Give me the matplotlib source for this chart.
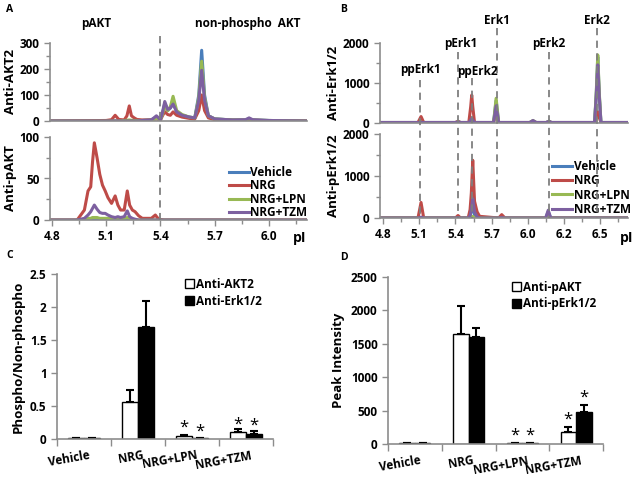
import matplotlib
matplotlib.use('Agg')
import matplotlib.pyplot as plt
from matplotlib import transforms
from matplotlib.ticker import FixedLocator, NullLocator, FuncFormatter

plt.rcParams['font.family'] = ['Open Sans', 'DejaVu Sans']
plt.rcParams['font.weight'] = 'bold'
plt.rcParams['axes.labelweight'] = 'bold'

# ---------------- data ----------------
series_names = ['Vehicle', 'NRG', 'NRG+LPN', 'NRG+TZM']
series_colors = ['#4a7ebb', '#be4b48', '#98b954', '#7d60a0']

# Panel A top: Anti-AKT2
akt2_x = [4.80, 5.10, 5.13, 5.15, 5.17, 5.20, 5.215, 5.228, 5.24, 5.255, 5.27, 5.30, 5.35, 5.378,
          5.40, 5.41, 5.424, 5.44, 5.455, 5.47, 5.49, 5.52, 5.56, 5.59, 5.612, 5.628, 5.644,
          5.665, 5.70, 5.80, 5.87, 5.89, 5.91, 6.00, 6.21]
akt2_vehicle = [0, 0, 0, 0, 0, 0, 0, 0, 0, 0, 0, 2, 5, 15,
                5, 25, 68, 40, 50, 72, 35, 22, 15, 12, 100, 272, 100,
                20, 8, 4, 4, 8, 4, 2, 0]
akt2_nrg = [0, 2, 5, 22, 6, 4, 20, 58, 20, 12, 6, 4, 4, 8,
            3, 18, 36, 25, 22, 35, 22, 15, 10, 8, 40, 100, 40,
            12, 5, 3, 3, 5, 3, 1, 0]
akt2_lpn = [0, 0, 0, 0, 0, 2, 3, 4, 3, 2, 2, 2, 3, 10,
            5, 22, 60, 40, 55, 95, 40, 25, 15, 12, 90, 230, 90,
            20, 8, 4, 4, 8, 4, 2, 0]
akt2_tzm = [0, 0, 0, 0, 0, 0, 0, 0, 0, 0, 0, 2, 4, 20,
            5, 28, 75, 45, 50, 65, 35, 22, 15, 12, 80, 195, 80,
            20, 8, 4, 5, 12, 5, 2, 0]

# Panel A bottom: Anti-pAKT
pakt_x = [4.79, 4.94, 4.98, 5.00, 5.015, 5.025, 5.035, 5.05, 5.065, 5.08, 5.095, 5.11, 5.13,
          5.15, 5.165, 5.18, 5.20, 5.217, 5.23, 5.245, 5.26, 5.28, 5.30, 5.35, 5.372, 5.39,
          5.42, 6.21]
pakt_vehicle = [0] * 28
pakt_nrg = [0, 0, 12, 35, 40, 70, 93, 75, 55, 42, 35, 27, 20,
            29, 18, 12, 12, 35, 18, 12, 10, 5, 2, 2, 6, 1,
            0, 0]
pakt_lpn = [0, 0, 1, 2, 2, 3, 3, 3, 2, 2, 2, 2, 2,
            2, 2, 2, 2, 3, 2, 1, 0, 0, 0, 0, 0, 0,
            0, 0]
pakt_tzm = [0, 0, 2, 6, 10, 14, 18, 13, 9, 8, 8, 6, 4,
            3, 4, 3, 4, 11, 4, 2, 1, 0, 0, 0, 0, 0,
            0, 0]

# Panel B top: Anti-Erk1/2
erk_x = [4.78, 5.075, 5.099, 5.12, 5.37, 5.39, 5.41, 5.475, 5.49, 5.498, 5.506, 5.52,
         5.67, 5.69, 5.71, 5.955, 5.98, 6.005, 6.085, 6.106, 6.125,
         6.465, 6.478, 6.49, 6.502, 6.515, 6.73]
erk_vehicle = [0, 0, 10, 0, 0, 20, 0, 0, 30, 50, 30, 0,
               0, 550, 0, 0, 40, 0, 0, 30, 0,
               0, 700, 1650, 700, 0, 0]
erk_nrg = [0, 0, 150, 0, 0, 30, 0, 0, 400, 690, 400, 0,
           0, 300, 0, 0, 30, 0, 0, 20, 0,
           0, 120, 270, 120, 0, 0]
erk_lpn = [0, 0, 5, 0, 0, 10, 0, 0, 20, 30, 20, 0,
           0, 610, 0, 0, 50, 0, 0, 30, 0,
           0, 750, 1700, 750, 0, 0]
erk_tzm = [0, 0, 5, 0, 0, 15, 0, 0, 60, 100, 60, 0,
           0, 420, 0, 0, 50, 0, 0, 30, 0,
           0, 650, 1450, 650, 0, 0]

# Panel B bottom: Anti-pErk1/2
perk_x = [4.78, 5.075, 5.099, 5.12, 5.37, 5.39, 5.41, 5.47, 5.485, 5.495, 5.506, 5.52,
          5.54, 5.56, 5.71, 5.734, 5.76, 6.08, 6.10, 6.12, 6.73]
perk_vehicle = [0, 0, 0, 0, 0, 0, 0, 0, 50, 150, 330, 80,
                0, 0, 0, 0, 0, 0, 150, 0, 0]
perk_nrg = [0, 0, 370, 0, 0, 60, 0, 0, 200, 600, 1375, 400,
            150, 40, 0, 80, 0, 0, 30, 0, 0]
perk_lpn = [0, 0, 0, 0, 0, 0, 0, 0, 0, 20, 40, 0,
            0, 0, 0, 0, 0, 0, 40, 0, 0]
perk_tzm = [0, 0, 20, 0, 0, 10, 0, 0, 50, 200, 460, 150,
            30, 0, 0, 10, 0, 0, 185, 0, 0]

erk_peak_names = ['ppErk1', 'pErk1', 'ppErk2', 'Erk1', 'pErk2', 'Erk2']
erk_peak_pi = [5.091, 5.39, 5.50, 5.697, 6.106, 6.484]
erk_ticklabels = ['4.8', '5.1', '5.4', '5.7', '6.0', '6.2', '6.5']

# Panel C / D bars
groups = ['Vehicle', 'NRG', 'NRG+LPN', 'NRG+TZM']
c_akt2 = [0.01, 0.56, 0.05, 0.11]
c_akt2_err = [0.0, 0.18, 0.01, 0.04]
c_erk = [0.01, 1.70, 0.01, 0.08]
c_erk_err = [0.0, 0.39, 0.0, 0.04]
d_pakt = [10, 1650, 10, 175]
d_pakt_err = [0, 410, 10, 75]
d_perk = [12, 1600, 8, 475]
d_perk_err = [0, 140, 0, 105]

# ---------------- figure ----------------
fig = plt.figure(figsize=(6.4, 4.79), dpi=100)
GRAY = '#8c8c8c'
FS = 8.5


def fax(l, t, r, b):
    return fig.add_axes([l / 640, 1 - b / 479, (r - l) / 640, (b - t) / 479])


def style(ax):
    for s in ['top', 'right']:
        ax.spines[s].set_visible(False)
    for s in ['left', 'bottom']:
        ax.spines[s].set_color(GRAY)
        ax.spines[s].set_linewidth(1.2)
    ax.tick_params(which='both', colors=GRAY, labelcolor='black', labelsize=FS,
                   width=1, direction='out')
    ax.tick_params(which='major', length=4)
    ax.tick_params(which='minor', length=3)
    ax.set_facecolor('none')


def boldticks(ax):
    for t in ax.get_xticklabels() + ax.get_yticklabels():
        t.set_fontweight('bold')


def traces(ax, x, ys):
    for y, c, n in zip(ys, series_colors, series_names):
        ax.plot(x, y, color=c, lw=2.2, label=n, solid_joinstyle='round')


# ---- Panel A
axA1 = fax(50, 43, 307, 121)
axA2 = fax(50, 137, 307, 220)
for ax in (axA1, axA2):
    style(ax)
    ax.set_xlim(4.79, 6.21)
traces(axA1, akt2_x, [akt2_vehicle, akt2_nrg, akt2_lpn, akt2_tzm])
traces(axA2, pakt_x, [pakt_vehicle, pakt_nrg, pakt_lpn, pakt_tzm])
axA1.set_ylim(0, 300)
axA1.yaxis.set_major_locator(FixedLocator([0, 100, 200, 300]))
axA1.yaxis.set_minor_locator(FixedLocator([50, 150, 250]))
axA1.xaxis.set_major_locator(NullLocator())
axA2.set_ylim(0, 100)
axA2.yaxis.set_major_locator(FixedLocator([0, 50, 100]))
axA2.yaxis.set_minor_locator(FixedLocator([25, 75]))
axA2.xaxis.set_major_locator(FixedLocator([4.8, 5.1, 5.4, 5.7, 6.0]))
axA2.xaxis.set_minor_locator(FixedLocator([4.95, 5.25, 5.55, 5.85, 6.15]))
axA2.set_xticklabels(['4.8', '5.1', '5.4', '5.7', '6.0'])
axA1.set_ylabel('Anti-AKT2', fontsize=9.5, labelpad=2)
axA2.set_ylabel('Anti-pAKT', fontsize=9.5, labelpad=2)
axA2.legend(frameon=False, loc='lower right', bbox_to_anchor=(1.02, -0.05), fontsize=FS,
            handlelength=1.7, handletextpad=0.15, labelspacing=0.05, borderaxespad=0)
trA = transforms.blended_transform_factory(axA2.transData, fig.transFigure)
fig.add_artist(plt.Line2D([5.4, 5.4], [1 - 36 / 479, 1 - 220 / 479], transform=trA,
                          color='#7f7f7f', ls=(0, (4, 3)), lw=1.3))
fig.text(96 / 640, 1 - 24 / 479, 'pAKT', ha='center', va='center', fontsize=FS)
fig.text(248 / 640, 1 - 24 / 479, 'non-phospho  AKT', ha='center', va='center', fontsize=FS)
fig.text(300 / 640, 1 - 238 / 479, 'pI', ha='center', va='center', fontsize=10)

# ---- Panel B
axB1 = fax(380, 43, 628, 122.5)
axB2 = fax(380, 134, 628, 218)
for ax in (axB1, axB2):
    style(ax)
    ax.set_xlim(4.776, 6.728)
    ax.set_ylim(0, 2000)
    ax.yaxis.set_major_locator(FixedLocator([0, 1000, 2000]))
    ax.yaxis.set_minor_locator(FixedLocator([500, 1500]))
traces(axB1, erk_x, [erk_vehicle, erk_nrg, erk_lpn, erk_tzm])
traces(axB2, perk_x, [perk_vehicle, perk_nrg, perk_lpn, perk_tzm])
axB1.xaxis.set_major_locator(NullLocator())
btick = [4.8 + k * 0.285 for k in range(len(erk_ticklabels))]
axB2.xaxis.set_major_locator(FixedLocator(btick))
axB2.xaxis.set_minor_locator(FixedLocator([4.8 + k * 0.1425 for k in range(14)]))
axB2.set_xticklabels(erk_ticklabels)
axB1.set_ylabel('Anti-Erk1/2', fontsize=9.5, labelpad=2)
axB2.set_ylabel('Anti-pErk1/2', fontsize=9.5, labelpad=2)
axB2.legend(frameon=False, loc='lower right', bbox_to_anchor=(1.03, -0.03), fontsize=FS,
            handlelength=1.7, handletextpad=0.15, labelspacing=0.1, borderaxespad=0)
trB = transforms.blended_transform_factory(axB2.transData, fig.transFigure)
label_py = [70, 44, 72, 20, 44, 20]
line_top = [80, 52, 78, 28, 52, 28]
for name, pi, lp, lt in zip(erk_peak_names, erk_peak_pi, label_py, line_top):
    fig.add_artist(plt.Line2D([pi, pi], [1 - lt / 479, 1 - 218 / 479], transform=trB,
                              color='#7f7f7f', ls=(0, (4, 3)), lw=1.3))
    xoff = 0.04 if name == 'ppErk2' else (0.02 if name == 'pErk1' else 0)
    fig.text(pi + xoff, 1 - lp / 479, name, ha='center', va='center', fontsize=FS,
             transform=trB)
fig.text(627 / 640, 1 - 238 / 479, 'pI', ha='center', va='center', fontsize=10)


# ---- Bars
def bars(ax, w, werr, b, berr, leg, ylim, ystep, stars, legx):
    style(ax)
    xs = range(len(groups))
    wd = 0.29
    ekw = dict(ecolor='black', elinewidth=1.5, capsize=3, capthick=1.5)
    ax.bar([x - wd / 2 for x in xs], w, wd, color='white', edgecolor='black', lw=1,
           yerr=[[0] * len(werr), werr], error_kw=ekw, label=leg[0])
    ax.bar([x + wd / 2 for x in xs], b, wd, color='black', edgecolor='black', lw=1,
           yerr=[[0] * len(berr), berr], error_kw=ekw, label=leg[1])
    ax.set_xlim(-0.5, len(groups) - 0.5)
    ax.set_ylim(0, ylim)
    ticks = [ystep * k for k in range(int(round(ylim / ystep)) + 1)]
    ax.yaxis.set_major_locator(FixedLocator(ticks))
    ax.yaxis.set_major_formatter(FuncFormatter(lambda v, p: '%g' % v))
    ax.xaxis.set_major_locator(FixedLocator([i - 0.5 for i in range(len(groups) + 1)]))
    ax.set_xticklabels([])
    ax.tick_params(axis='x', length=5)
    tr = transforms.blended_transform_factory(ax.transData, ax.transAxes)
    for i, g in enumerate(groups):
        ax.text(i + 0.08, -0.06, g, transform=tr, rotation=10, ha='right', va='top',
                rotation_mode='anchor', fontsize=FS, fontweight='bold')
    for (sx, sy) in stars:
        ax.text(sx, sy, '*', ha='center', va='center', fontsize=12, fontweight='normal')
    ax.legend(frameon=False, loc='upper right', bbox_to_anchor=(legx, 1.04), fontsize=FS,
              handlelength=0.8, handleheight=0.8, handletextpad=0.2, labelspacing=0.3)


axC = fax(57, 274, 273, 439)
bars(axC, c_akt2, c_akt2_err, c_erk, c_erk_err, ['Anti-AKT2', 'Anti-Erk1/2'], 2.5, 0.5,
     [(2 - 0.145, 0.17), (2 + 0.145, 0.11), (3 - 0.145, 0.22), (3 + 0.145, 0.2)], 1.0)
axC.set_ylabel('Phospho/Non-phospho', fontsize=9.5, labelpad=4)

axD = fax(388, 277, 603, 444)
bars(axD, d_pakt, d_pakt_err, d_perk, d_perk_err, ['Anti-pAKT', 'Anti-pErk1/2'], 2500, 500,
     [(2 - 0.145, 130), (2 + 0.145, 130), (3 - 0.145, 360), (3 + 0.145, 700)], 1.02)
axD.set_ylabel('Peak Intensity', fontsize=9.5, labelpad=4)

for ax in (axA1, axA2, axB1, axB2, axC, axD):
    boldticks(ax)

for lab, px, py in [('A', 10, 10), ('B', 344, 10), ('C', 10, 255), ('D', 344, 258)]:
    fig.text(px / 640, 1 - py / 479, lab, ha='center', va='center', fontsize=7.5)

fig.savefig('out.png', dpi=100)
